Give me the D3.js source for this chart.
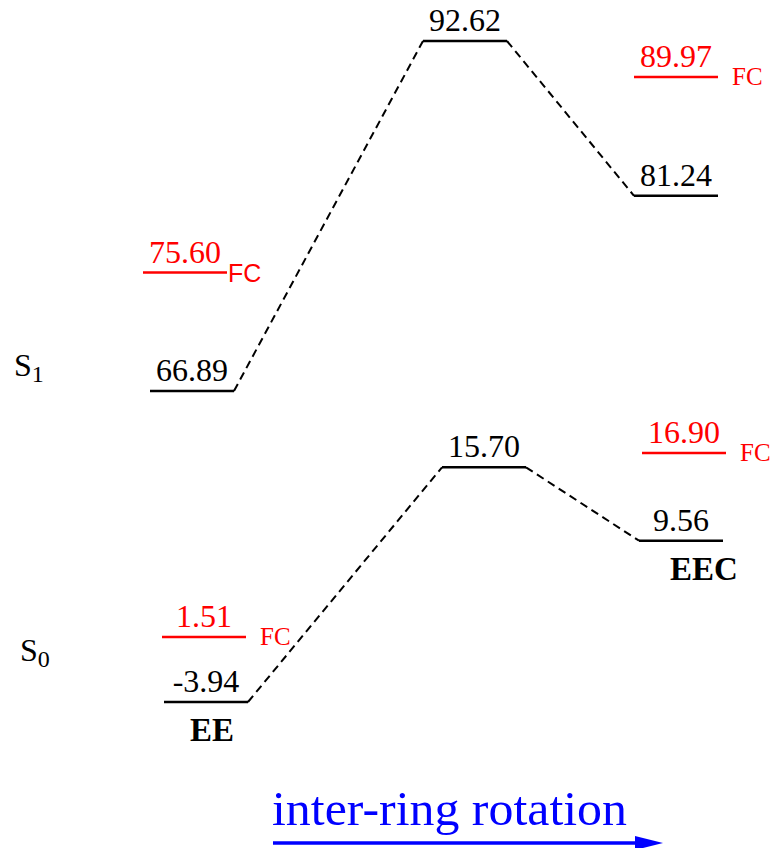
<!DOCTYPE html>
<html>
<head>
    <title>S0 / S1 energy profile</title>
    <style>
        html, body { margin: 0; padding: 0; background: #fff; }
        svg { display: block; }
        .value { font-family: "Liberation Serif", "Times New Roman", serif; font-size: 32px; }
    </style>
    <script src="https://d3js.org/d3.v7.min.js"></script>
</head>
<body>
<svg id="chart"></svg>
<script>
// structures along the inter-ring rotation coordinate
const columns = ["EE", "TS", "EEC"];
const structureNames = ["EE", "", "EEC"];

// relaxed energies (black levels)
const s0Energies = [-3.94, 15.70, 9.56];
const s1Energies = [66.89, 92.62, 81.24];

// Franck-Condon energies (red levels), none at the TS
const s0FC = [1.51, null, 16.90];
const s1FC = [75.60, null, 89.97];

const width = 777, height = 848;
const levelWidth = 84;

const svg = d3.select("#chart").attr("width", width).attr("height", height);

// schematic energy axis: one scale per state
const panels = [
    { state: "S1", sub: "1", energies: s1Energies, fc: s1FC,
      y: d3.scaleLinear().domain([66.89, 92.62]).range([391, 41]),
      x: d3.scaleOrdinal().domain(columns).range([150, 423, 634]),
      labelY: 376, labelX: 14 },
    { state: "S0", sub: "0", energies: s0Energies, fc: s0FC,
      y: d3.scaleLinear().domain([-3.94, 16.90]).range([702, 453]),
      x: d3.scaleOrdinal().domain(columns).range([164, 442, 639]),
      labelY: 661, labelX: 20 }
];

panels.forEach(function(p) {
    const g = svg.append("g");
    const levels = columns.map((c, i) => ({ col: c, i: i, e: p.energies[i] }));

    // dashed connectors between neighbouring levels
    for (let i = 0; i < levels.length - 1; i++) {
        const a = levels[i], b = levels[i + 1];
        g.append("line")
            .attr("x1", p.x(a.col) + levelWidth).attr("y1", p.y(a.e))
            .attr("x2", p.x(b.col)).attr("y2", p.y(b.e))
            .attr("stroke", "#000").attr("stroke-width", 2)
            .attr("stroke-dasharray", "8,5");
    }

    g.selectAll(".level")
        .data(levels)
        .enter()
        .append("line")
        .attr("class", "level")
        .attr("x1", d => p.x(d.col)).attr("x2", d => p.x(d.col) + levelWidth)
        .attr("y1", d => p.y(d.e)).attr("y2", d => p.y(d.e))
        .attr("stroke", "#000").attr("stroke-width", 2.5);

    g.selectAll(".lvl-label")
        .data(levels)
        .enter()
        .append("text")
        .attr("class", "value")
        .attr("x", d => p.x(d.col) + levelWidth / 2)
        .attr("y", d => p.y(d.e) - 10)
        .attr("text-anchor", "middle")
        .attr("fill", "#000")
        .text(d => d.e.toFixed(2));

    // Franck-Condon levels
    const fc = columns.map((c, i) => ({ col: c, i: i, e: p.fc[i] })).filter(d => d.e !== null);
    const fcShift = d => (d.i === 0 ? (p.state === "S1" ? -7 : -2) : (p.state === "S0" ? 3 : 0));

    g.selectAll(".fc")
        .data(fc)
        .enter()
        .append("line")
        .attr("x1", d => p.x(d.col) + fcShift(d)).attr("x2", d => p.x(d.col) + fcShift(d) + levelWidth)
        .attr("y1", d => p.y(d.e)).attr("y2", d => p.y(d.e))
        .attr("stroke", "red").attr("stroke-width", 2.5);

    g.selectAll(".fc-label")
        .data(fc)
        .enter()
        .append("text")
        .attr("class", "value")
        .attr("x", d => p.x(d.col) + fcShift(d) + levelWidth / 2)
        .attr("y", d => p.y(d.e) - 10)
        .attr("text-anchor", "middle")
        .attr("fill", "red")
        .text(d => d.e.toFixed(2));

    g.selectAll(".fc-tag")
        .data(fc)
        .enter()
        .append("text")
        .each(function(d) {
            const sans = p.state === "S1" && d.i === 0;
            d3.select(this)
                .attr("x", p.x(d.col) + fcShift(d) + levelWidth + (sans ? 1 : 14))
                .attr("y", p.y(d.e) + (sans ? 9 : 8))
                .attr("font-family", sans ? "'Liberation Sans', Arial, sans-serif" : "'Liberation Serif', serif")
                .attr("font-size", sans ? "25px" : "25px")
                .attr("fill", "red")
                .text("FC");
        });

    // state label
    const st = g.append("text")
        .attr("x", p.labelX).attr("y", p.labelY)
        .attr("font-family", "'Liberation Serif', serif")
        .attr("font-size", "32px");
    st.append("tspan").text("S");
    st.append("tspan").attr("font-size", "24px").attr("dy", 6).text(p.sub);

    // structure names under the S0 minima
    if (p.state === "S0") {
        g.selectAll(".struct")
            .data(levels.filter(d => structureNames[d.i] !== ""))
            .enter()
            .append("text")
            .attr("x", d => p.x(d.col) + levelWidth / 2 + (d.i === 0 ? 6 : 23))
            .attr("y", d => p.y(d.e) + 39)
            .attr("text-anchor", "middle")
            .attr("font-family", "'Liberation Serif', serif")
            .attr("font-weight", "bold")
            .attr("font-size", "33px")
            .text(d => structureNames[d.i]);
    }
});

// reaction coordinate arrow
svg.append("text")
    .attr("x", 272).attr("y", 825)
    .attr("font-family", "'Liberation Serif', serif")
    .attr("font-size", "48px")
    .attr("textLength", 355)
    .attr("lengthAdjust", "spacingAndGlyphs")
    .attr("fill", "blue")
    .text("inter-ring rotation");
svg.append("line")
    .attr("x1", 273).attr("x2", 640).attr("y1", 843).attr("y2", 843)
    .attr("stroke", "blue").attr("stroke-width", 3.5);
svg.append("path")
    .attr("d", "M635,836 L663,843 L635,850 Z")
    .attr("fill", "blue");
</script>
</body>
</html>
